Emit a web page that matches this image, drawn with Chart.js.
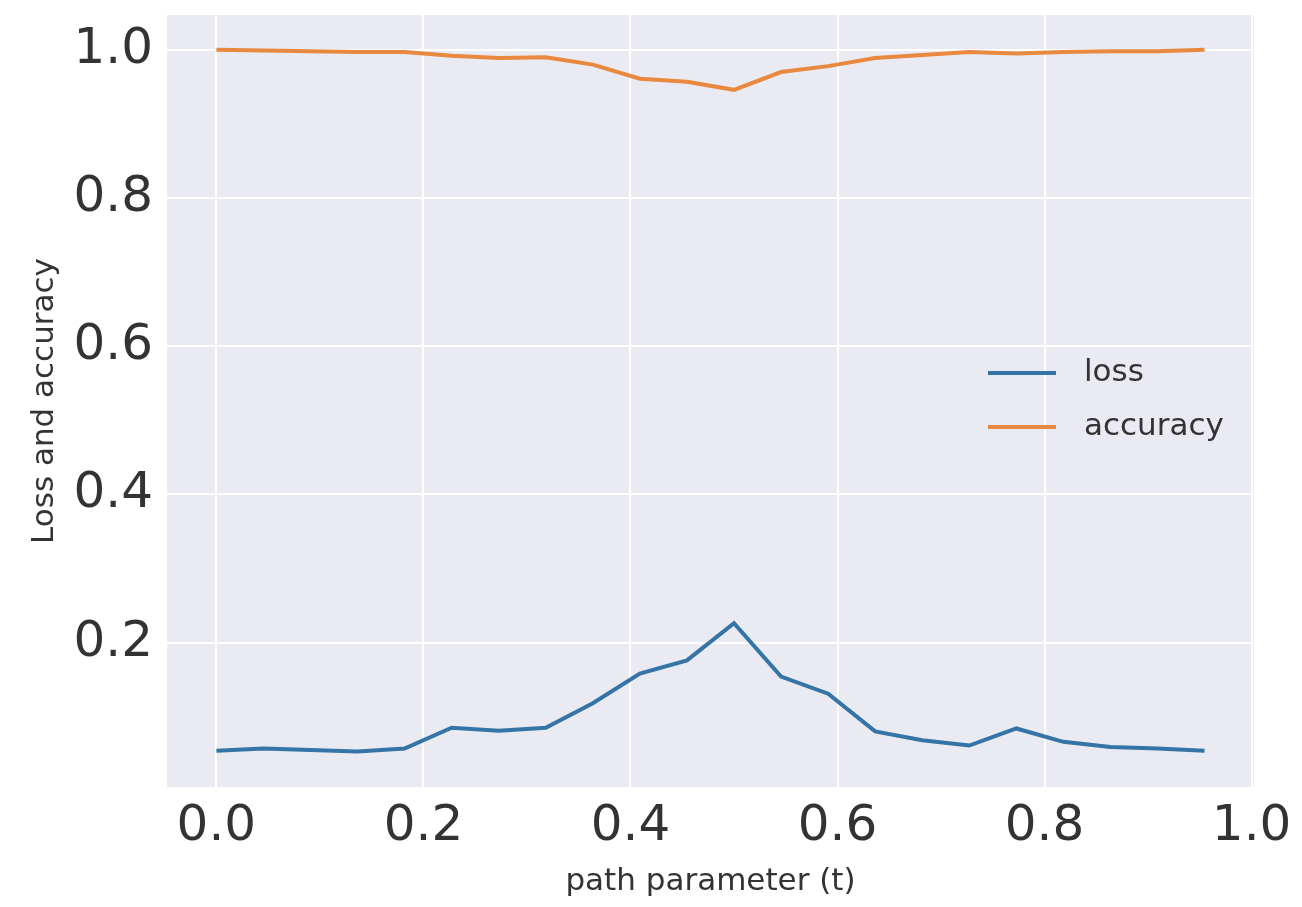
<!DOCTYPE html>
<html>
<head>
<meta charset="utf-8">
<script src="https://cdn.jsdelivr.net/npm/chart.js@4/dist/chart.umd.min.js"></script>
<style>
  body { margin: 0; background: #fff; }
  #wrap { width: 1302px; height: 907px; }
</style>
</head>
<body>
<div id="wrap"><canvas id="myChart"></canvas></div>
<script>
// path parameter t = i / 22
const tValues = [0, 1, 2, 3, 4, 5, 6, 7, 8, 9, 10, 11, 12, 13, 14, 15, 16, 17, 18, 19, 20, 21].map(i => i / 22);
const lossValues = [0.054, 0.057, 0.055, 0.053, 0.057, 0.085, 0.081, 0.085, 0.118, 0.158, 0.176, 0.226,
                    0.154, 0.131, 0.080, 0.068, 0.061, 0.084, 0.066, 0.059, 0.057, 0.054];
const accuracyValues = [1.0, 0.999, 0.998, 0.997, 0.997, 0.992, 0.989, 0.990, 0.980, 0.961, 0.957, 0.946,
                        0.970, 0.978, 0.989, 0.993, 0.997, 0.995, 0.997, 0.998, 0.998, 1.0];
const xTicks = [0.0, 0.2, 0.4, 0.6, 0.8, 1.0];
const yTicks = [0.2, 0.4, 0.6, 0.8, 1.0];

const textColor = '#333333';

// grey panel behind the plot
const panelBg = {
   id: 'panelBg',
   beforeDraw(chart) {
      const { ctx, chartArea: a } = chart;
      ctx.save();
      ctx.fillStyle = '#eaeaf2';
      ctx.fillRect(a.left, a.top, a.right - a.left, a.bottom - a.top);
      ctx.restore();
   }
};

// legend drawn inside the plot, right side
const innerLegend = {
   id: 'innerLegend',
   afterDatasetsDraw(chart) {
      const ctx = chart.ctx;
      const a = chart.chartArea;
      const x0 = a.right - 266, y0 = a.top + 358;
      ctx.save();
      ctx.font = '31px "DejaVu Sans"';
      ctx.textBaseline = 'middle';
      chart.data.datasets.forEach((ds, i) => {
         const y = y0 + i * 54;
         ctx.strokeStyle = ds.borderColor;
         ctx.lineWidth = 4;
         ctx.beginPath();
         ctx.moveTo(x0, y);
         ctx.lineTo(x0 + 68, y);
         ctx.stroke();
         ctx.fillStyle = textColor;
         ctx.fillText(ds.label, x0 + 96, y);
      });
      ctx.restore();
   }
};

let ctx = document.getElementById('myChart').getContext('2d');
let chart = new Chart(ctx, {
   type: 'line',
   data: {
      labels: tValues,
      datasets: [{
         label: 'loss',
         data: tValues.map((t, i) => ({ x: t, y: lossValues[i] })),
         borderColor: '#3574a6',
         borderWidth: 4,
         pointRadius: 0,
         tension: 0
      }, {
         label: 'accuracy',
         data: tValues.map((t, i) => ({ x: t, y: accuracyValues[i] })),
         borderColor: '#e8893f',
         borderWidth: 4,
         pointRadius: 0,
         tension: 0
      }]
   },
   options: {
      responsive: true,
      maintainAspectRatio: false,
      animation: false,
      layout: { padding: { top: 15, right: 48, left: 0, bottom: 0 } },
      plugins: { legend: { display: false }, tooltip: { enabled: false } },
      scales: {
         x: {
            type: 'linear',
            min: -0.0477,
            max: 1.0023,
            afterBuildTicks: s => { s.ticks = xTicks.map(v => ({ value: v })); },
            afterFit: s => { s.height = 120; s.paddingLeft = 0; s.paddingRight = 0; },
            border: { display: false },
            grid: { color: '#ffffff', lineWidth: 2, drawTicks: false },
            ticks: {
               color: textColor,
               font: { size: 50, family: 'DejaVu Sans' },
               padding: 10,
               maxRotation: 0,
               callback: v => v.toFixed(1)
            },
            title: {
               display: true,
               text: 'path parameter (t)',
               color: textColor,
               font: { size: 31, family: 'DejaVu Sans' },
               padding: { top: 0, bottom: 6 }
            }
         },
         y: {
            min: 0.005,
            max: 1.047,
            afterBuildTicks: s => { s.ticks = yTicks.map(v => ({ value: v })); },
            afterFit: s => { s.width = 167; s.paddingTop = 0; s.paddingBottom = 0; },
            border: { display: false },
            grid: { color: '#ffffff', lineWidth: 2, drawTicks: false },
            ticks: {
               color: textColor,
               font: { size: 50, family: 'DejaVu Sans' },
               padding: 14,
               callback: v => v.toFixed(1)
            },
            title: {
               display: true,
               text: 'Loss and accuracy',
               color: textColor,
               font: { size: 31, family: 'DejaVu Sans' },
               padding: { top: 26, bottom: 0 }
            }
         }
      }
   },
   plugins: [panelBg, innerLegend]
});
</script>
</body>
</html>
